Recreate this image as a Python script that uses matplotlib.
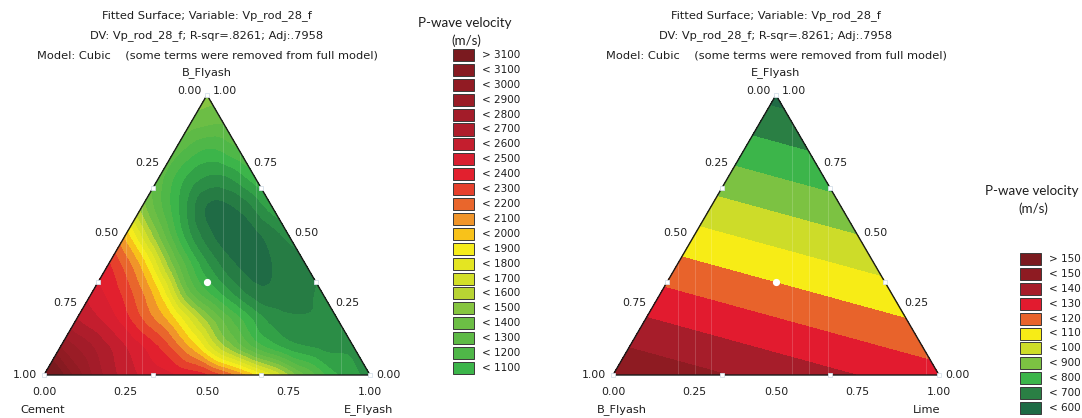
import numpy as np
import matplotlib
matplotlib.use("Agg")
import matplotlib.pyplot as plt
import matplotlib.tri as mtri
from matplotlib.patches import Rectangle

# ---------------- data ----------------
# Left chart: fitted P-wave velocity read on a 0.1 simplex grid
# rows = B_Flyash fraction, entries = E_Flyash fraction 0,0.1,... (Cement = rest)
b_fractions = [0.0, 0.1, 0.2, 0.3, 0.4, 0.5, 0.6, 0.7, 0.8, 0.9, 1.0]
vp_b00 = [3350, 2950, 2650, 2480, 2400, 2300, 2050, 1700, 1300, 1000, 860]
vp_b01 = [2900, 2700, 2500, 2300, 1980, 1520, 1170, 960, 880, 870]
vp_b02 = [2600, 2450, 2200, 1900, 1460, 1110, 860, 810, 830]
vp_b03 = [2450, 2250, 1900, 1280, 950, 730, 750, 810]
vp_b04 = [2300, 1950, 1350, 900, 680, 700, 780]
vp_b05 = [1950, 1400, 900, 650, 680, 830]
vp_b06 = [1450, 1050, 690, 720, 950]
vp_b07 = [1250, 950, 870, 1050]
vp_b08 = [1250, 1080, 1180]
vp_b09 = [1350, 1300]
vp_b10 = [1450]
left_rows = [vp_b00, vp_b01, vp_b02, vp_b03, vp_b04, vp_b05,
             vp_b06, vp_b07, vp_b08, vp_b09, vp_b10]

left_levels = [0, 700, 800, 900, 1000, 1100, 1200, 1300, 1400, 1500, 1600, 1700,
               1800, 1900, 2000, 2100, 2200, 2300, 2400, 2500, 2600, 2700, 2800,
               2900, 3000, 3100, 10000]
left_colors = ['#1f6b45', '#267c44', '#2b8d46', '#32a147', '#3cb54a', '#4fb748',
               '#5eba46', '#6cbe45', '#86c540', '#b8d433', '#d3df28', '#e4e522',
               '#f6ec1c', '#f8c21a', '#f0952a', '#e9662c', '#e6402c', '#e2202e',
               '#d81f30', '#c41e2e', '#ae1d2b', '#a31c29', '#9a1c26', '#911b23',
               '#871a21', '#7a1a1f']
left_legend_labels = ['> 3100', '< 3100', '< 3000', '< 2900', '< 2800', '< 2700',
                      '< 2600', '< 2500', '< 2400', '< 2300', '< 2200', '< 2100',
                      '< 2000', '< 1900', '< 1800', '< 1700', '< 1600', '< 1500',
                      '< 1400', '< 1300', '< 1200', '< 1100']

# Right chart: vertex values (B_Flyash, E_Flyash, Lime)
right_vertex_names = ['B_Flyash', 'E_Flyash', 'Lime']
right_vertex_vp = [1490, 565, 1235]
right_levels = [0, 600, 700, 800, 900, 1000, 1100, 1200, 1300, 1400, 1500, 10000]
right_colors = ['#1f6b45', '#2a7f44', '#3cb54a', '#7cc242', '#cddc29', '#f7ec16',
                '#e8632b', '#e21b2f', '#a61d2a', '#8e1b22', '#7a1a1f']
right_legend_labels = ['> 150', '< 150', '< 140', '< 130', '< 120', '< 110',
                       '< 100', '< 900', '< 800', '< 700', '< 600']

tick_values = ['0.00', '0.25', '0.50', '0.75', '1.00']
title_lines = ['Fitted Surface; Variable: Vp_rod_28_f',
               'DV: Vp_rod_28_f; R-sqr=.8261; Adj:.7958',
               'Model: Cubic    (some terms were removed from full model)']

# ---------------- figure ----------------
W, H = 1082, 418
fig = plt.figure(figsize=(W / 100, H / 100), dpi=100)
FONT = 'DejaVu Sans'
TXT = '#1e1e1e'
FS_TITLE = 8.2
FS_TICK = 7.8
FS_LEG = 7.5


def ftext(x, y, s, ha='center', va='center', size=FS_TICK, family=FONT, **kw):
    fig.text(x / W, 1 - y / H, s, ha=ha, va=va, fontsize=size, family=family,
             color=TXT, **kw)


def make_axes(x0, ybot, w=326, h=280):
    ax = fig.add_axes([x0 / W, 1 - ybot / H, w / W, h / H])
    ax.set_xlim(0, 1)
    ax.set_ylim(0, 1)
    ax.axis('off')
    return ax


def draw_frame(ax, streak_x):
    # faint light streaks visible inside the surface
    for sx in streak_x:
        ytop = 1 - 2 * abs(sx - 0.5)
        ax.plot([sx, sx], [0, ytop], color='white', lw=0.6, alpha=0.2, zorder=4)
    ax.plot([0, 1, 0.5, 0], [0, 0, 1, 0], color='#1a1a1a', lw=1.0,
            solid_joinstyle='miter', clip_on=False, zorder=5)
    # design points
    pts = [(0, 0), (1, 0), (0.5, 1), (1 / 3, 0), (2 / 3, 0),
           (1 / 6, 1 / 3), (1 / 3, 2 / 3), (5 / 6, 1 / 3), (2 / 3, 2 / 3)]
    ax.plot([p[0] for p in pts], [p[1] for p in pts], 's', ms=3.2,
            mfc='white', mec='#d6e0ea', mew=0.6, clip_on=False, zorder=6)
    ax.plot([0.5], [1 / 3], 'o', ms=4.2, mfc='white', mec='white',
            clip_on=False, zorder=6)


def draw_labels(dx, top_name, left_name, right_name, lname_x, rname_x):
    cx = 207 + dx
    for i, line in enumerate(title_lines):
        ftext(cx, [16, 36, 55][i], line, size=FS_TITLE)
    ftext(cx, 73, top_name, size=FS_TITLE)
    ftext(cx - 5, 91, '0.00', ha='right')
    ftext(cx + 6, 91, '1.00', ha='left')
    x0, yb = 44 + dx, 375
    for k, t in enumerate(tick_values):
        ftext(x0 + 326 * k / 4, 392, t)
    for k, t in enumerate(['0.25', '0.50', '0.75']):
        b = 0.75 - 0.25 * k
        ex, ey = x0 + 163 * b, yb - 280 * b
        ftext(ex - 7, ey - 2, t, ha='right')
    ftext(x0 - 7, yb, '1.00', ha='right')
    for k, t in enumerate(['0.75', '0.50', '0.25']):
        b = 0.75 - 0.25 * k
        ex, ey = x0 + 326 - 163 * b, yb - 280 * b
        ftext(ex + 6, ey - 2, t, ha='left')
    ftext(x0 + 326 + 6, yb, '0.00', ha='left')
    ftext(lname_x, 410, left_name, size=FS_TITLE)
    ftext(rname_x, 410, right_name, size=FS_TITLE)


def draw_legend(xbox, ytitle, yfirst, labels, colors_hi_to_lo):
    ftext(xbox + 12, ytitle, 'P-wave velocity', size=9.6, family='Lato')
    ftext(xbox + 13, ytitle + 18, '(m/s)', size=9.6, family='Lato')
    for i, (lab, col) in enumerate(zip(labels, colors_hi_to_lo)):
        yc = yfirst + 14.9 * i
        fig.patches.append(Rectangle((xbox / W, 1 - (yc + 6) / H), 21 / W, 12 / H,
                                     transform=fig.transFigure, facecolor=col,
                                     edgecolor='#3a3a3a', lw=0.7))
        ftext(xbox + 29, yc, lab, ha='left', size=FS_LEG)


# ---- left chart ----
axL = make_axes(44, 375)
X, Y, Z = [], [], []
for b, row in zip(b_fractions, left_rows):
    for j, v in enumerate(row):
        e = j / 10
        X.append(e + b / 2)
        Y.append(b)
        Z.append(v)
triL = mtri.Triangulation(X, Y)
refiner = mtri.UniformTriRefiner(triL)
interp = mtri.CubicTriInterpolator(triL, np.array(Z, float), kind='geom')
tri_r, z_r = refiner.refine_field(np.array(Z, float), triinterpolator=interp, subdiv=4)
axL.tricontourf(tri_r, z_r, levels=left_levels, colors=left_colors, antialiased=False)
draw_frame(axL, [0.25, 0.30, 0.55, 0.60, 0.65, 0.91])
draw_labels(0, 'B_Flyash', 'Cement', 'E_Flyash', 43, 369)
draw_legend(453, 23, 55, left_legend_labels, left_colors[::-1])

# ---- right chart ----
axR = make_axes(613, 375)
triR = mtri.Triangulation([0, 0.5, 1], [0, 1, 0])
axR.tricontourf(triR, right_vertex_vp, levels=right_levels, colors=right_colors,
                antialiased=False)
draw_frame(axR, [0.20, 0.25, 0.30, 0.55, 0.60, 0.66, 0.96])
draw_labels(569, 'E_Flyash', 'B_Flyash', 'Lime', 622, 927)
draw_legend(1020, 191, 259, right_legend_labels, right_colors[::-1])

fig.savefig('out.png', dpi=100, facecolor='white')
